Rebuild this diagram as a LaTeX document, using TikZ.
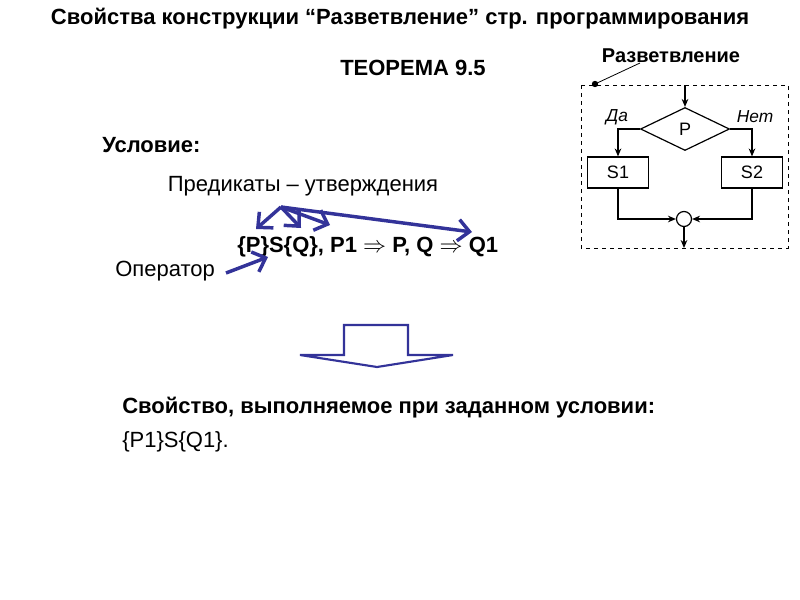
\documentclass[tikz,border=0pt]{standalone}
\usepackage{fontspec}
\setmainfont{Liberation Sans}
\usetikzlibrary{arrows.meta,shapes.geometric}
\definecolor{arrblue}{HTML}{333399}
\begin{document}
\begin{tikzpicture}[x=0.75pt,y=-0.75pt,
  txt/.style={inner sep=0pt,anchor=west},
  bold14/.style={txt,font=\fontsize{16.5pt}{18pt}\selectfont\bfseries},
  reg14/.style={txt,font=\fontsize{16.5pt}{18pt}\selectfont},
  small/.style={font=\fontsize{13.5pt}{15pt}\selectfont},
  blk/.style={draw=black,line width=0.9pt},
  fl/.style={black,line width=0.9pt,-{Stealth[length=6pt,width=5pt]}},
  bluearr/.style={arrblue,line width=2.6pt,-{Straight Barb[length=8.5pt,width=16pt]}}]
\useasboundingbox (0,0) rectangle (800,600);
% texts
\node[bold14,anchor=center] (title) at (400,19) {Свойства конструкции “Разветвление” стр. программирования};
\node[bold14,anchor=center] (thm) at (413,68) {ТЕОРЕМА 9.5};
\node[bold14] (cond) at (102,145) {Условие:};
\node[reg14,anchor=center] (pred) at (303,186) {Предикаты – утверждения};
\node[bold14] (form) at (237,247) {\{P\}S\{Q\}, P1 $\Rightarrow$ P, Q $\Rightarrow$ Q1};
\node[reg14] (oper) at (115,271) {Оператор};
\node[bold14] (prop) at (122,408) {Свойство, выполняемое при заданном условии:};
\node[reg14] (res) at (122,442) {\{P1\}S\{Q1\}.};
% blue arrows
\coordinate (src) at (281,207);
\coordinate (tP) at (256,229);
\coordinate (tQa) at (301,228);
\coordinate (tQb) at (330,225);
\coordinate (tQ1) at (472,232);
\coordinate (tS) at (268,257);
\draw[bluearr] (src) -- (tP);
\draw[bluearr] (src) -- (tQa);
\draw[bluearr] (src) -- (tQb);
\draw[bluearr] (src) -- (tQ1);
\draw[bluearr] (226,273) -- (tS);
% block arrow
\draw[arrblue,line width=1.6pt,line join=miter]
  (344,325) -- (408,325) -- (408,355) -- (453,355) -- (377,367) -- (300,355) -- (344,355) -- cycle;
% flowchart
\node[bold14,anchor=center,font=\fontsize{15pt}{17pt}\selectfont\bfseries] (razv) at (671,56) {Разветвление};
\draw[black,dashed,line width=0.7pt] (581,85) rectangle (788,248);
\coordinate (dot) at (595,84);
\fill (dot) circle (3.2);
\draw[black,line width=0.6pt] (dot) -- (640,63);
\node[draw=black,line width=0.9pt,diamond,minimum width=89*0.75pt,minimum height=43*0.75pt,inner sep=0pt,aspect=2,small] (P) at (685,129) {P};
\node[blk,minimum width=61*0.75pt,minimum height=31*0.75pt,inner sep=0pt,small] (S1) at (618,172.5) {S1};
\node[blk,minimum width=61*0.75pt,minimum height=31*0.75pt,inner sep=0pt,small] (S2) at (752,172.5) {S2};
\node[blk,circle,minimum size=15*0.75pt,inner sep=0pt] (J) at (684,219) {};
\coordinate (top) at (685,85);
\coordinate (bot) at (684,248);
\draw[fl] (top) -- (P.north);
\draw[fl] (P.west) -| (S1.north);
\draw[fl] (P.east) -| (S2.north);
\draw[fl] (S1.south) |- (J.west);
\draw[fl] (S2.south) |- (J.east);
\draw[fl] (J.south) -- (bot);
\node[font=\fontsize{13pt}{15pt}\selectfont\itshape] (da) at (617,117) {Да};
\node[font=\fontsize{13pt}{15pt}\selectfont\itshape] (net) at (755,117) {Нет};
\end{tikzpicture}
\end{document}
